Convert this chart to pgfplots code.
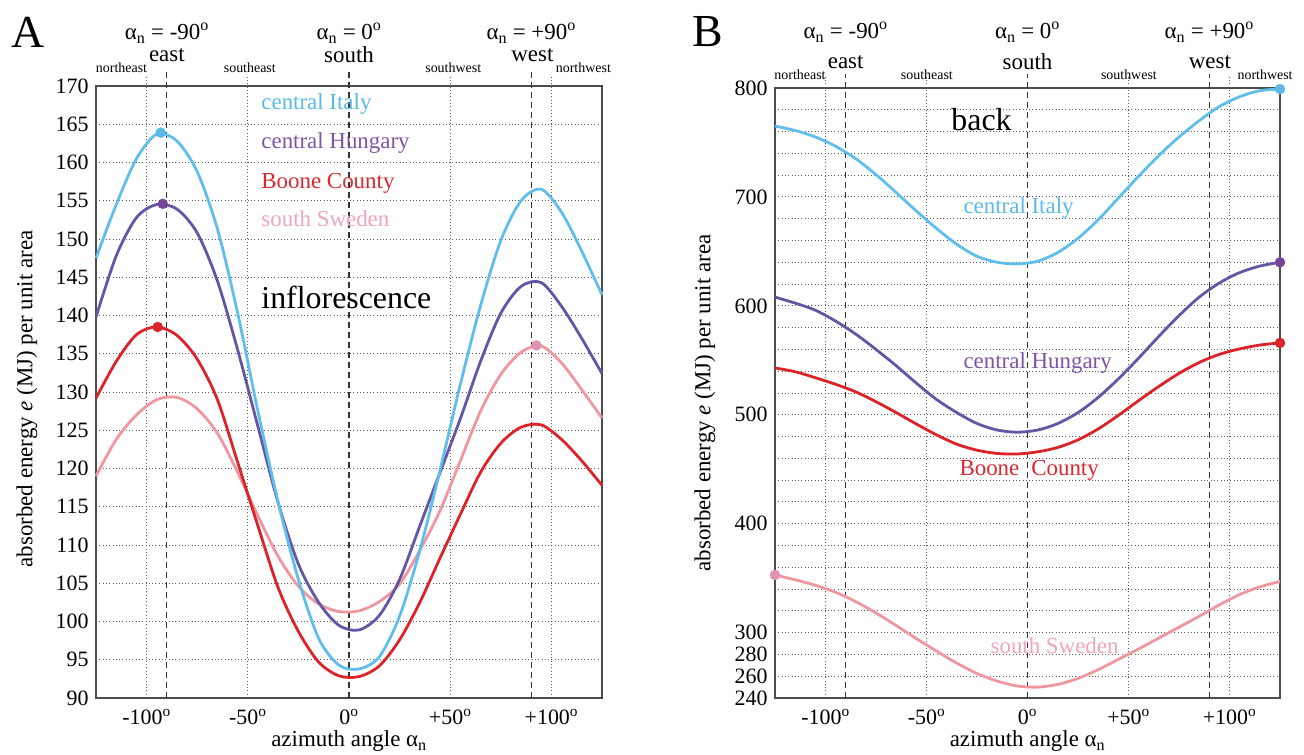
\documentclass[border=0pt]{standalone}
\usepackage{fontspec}
\setmainfont{Liberation Serif}
\usepackage{pgfplots}
\pgfplotsset{compat=1.18}
\definecolor{cItaly}{RGB}{95,190,235}
\definecolor{cHung}{RGB}{100,85,165}
\definecolor{cBoone}{RGB}{220,35,40}
\definecolor{cSwe}{RGB}{240,150,160}
\definecolor{tItaly}{RGB}{90,185,230}
\definecolor{tHung}{RGB}{125,85,165}
\definecolor{tBoone}{RGB}{220,40,45}
\definecolor{tSwe}{RGB}{240,165,185}
\definecolor{mHung}{RGB}{120,70,150}
\definecolor{mSwe}{RGB}{225,145,180}
\tikzset{
 small/.style={font=\fontsize{14}{14}\selectfont},
 card/.style={font=\fontsize{23}{23}\selectfont},
}
\pgfplotsset{
 common/.style={scale only axis, clip=false, xmin=-125, xmax=125,
   xtick={-100,-50,0,50,100},
   xticklabels={-100\textsuperscript{o},-50\textsuperscript{o},0\textsuperscript{o},+50\textsuperscript{o},+100\textsuperscript{o}},
   major tick length=0pt, minor tick length=0pt,
   tick label style={font=\fontsize{22}{22}\selectfont},
   xticklabel style={yshift=-8bp},
   yticklabel style={xshift=-4bp},
   /pgf/number format/assume math mode=true,
   axis line style={black!70, line width=1.1bp},
   ymajorgrids, yminorgrids,
   grid style={black!65, line width=0.9bp, dash pattern=on 0.9bp off 2.4bp},
   minor grid style={black!65, line width=0.9bp, dash pattern=on 0.9bp off 2.4bp},
   label style={font=\fontsize{23}{23}\selectfont},
   xlabel={azimuth angle α\textsubscript{n}},
   ylabel={absorbed energy \textit{e} (MJ) per unit area},
   xlabel style={at={(axis description cs:0.5,0)}, anchor=center, yshift=-43bp},
 },
 curve/.style={line width=2.8bp, smooth},
 vdash/.style={black!80, line width=1.1bp, dash pattern=on 6bp off 4bp, forget plot},
 vdot/.style={black!65, line width=0.9bp, dash pattern=on 0.9bp off 2.4bp, forget plot},
 dot/.style={only marks, mark=*, mark size=5bp, forget plot},
}
\begin{document}
\begin{tikzpicture}
\path[use as bounding box] (0,0) rectangle (1304bp,755bp);
\node[font=\fontsize{46}{46}\selectfont] at (28bp,723bp) {A};
\node[font=\fontsize{46}{46}\selectfont] at (708bp,723bp) {B};
% ---------------- Panel A ----------------
\begin{axis}[common, at={(96bp,57bp)}, anchor=south west, width=506bp, height=612bp,
  ymin=90, ymax=170, ytick={90,95,...,170},
  ylabel style={at={(axis description cs:0,0.4886)}, anchor=center, yshift=69bp}]
\addplot[vdot] coordinates {(-100,90) (-100,171.3)};
\addplot[vdot] coordinates {(-50,90) (-50,171.3)};
\addplot[vdot] coordinates {(50,90) (50,171.3)};
\addplot[vdot] coordinates {(100,90) (100,171.3)};
\addplot[vdash] coordinates {(-90,90) (-90,172)};
\addplot[vdash] coordinates {(0,90) (0,172)};
\addplot[vdash] coordinates {(90,90) (90,172)};
% south Sweden
\addplot[curve, cSwe] coordinates {
(-125,119) (-115,123.8) (-105,127) (-95,129) (-85,129.3) (-75,127.8) (-65,124.6)
(-55,119.5) (-45,113.8) (-35,108.5) (-25,104.6) (-15,102.3) (-5,101.3) (5,101.4)
(15,102.6) (25,104.9) (35,109.3) (45,114.5) (55,121) (65,127.5) (75,132.3) (85,135.2)
(95,136) (105,133.8) (115,130.3) (125,126.6)};
% Boone County
\addplot[curve, cBoone] coordinates {
(-125,129.2) (-115,134) (-105,137.5) (-95,138.5) (-85,137.4) (-75,134.3) (-65,129)
(-55,120.8) (-45,112.5) (-35,104.4) (-25,98.7) (-15,94.7) (-5,92.9) (5,92.8)
(15,94.2) (25,97.6) (35,102.5) (45,108.3) (55,114) (65,119.5) (75,123.3) (85,125.4)
(95,125.7) (105,123.8) (115,121) (125,117.8)};
% central Hungary
\addplot[curve, cHung] coordinates {
(-125,139.8) (-115,147.8) (-105,152.8) (-95,154.5) (-85,153.9) (-75,150.8) (-65,144.5)
(-55,135.5) (-45,125.5) (-35,115.5) (-25,107.5) (-15,102.5) (-5,99.5) (5,98.9)
(15,100.8) (25,105.5) (35,112.5) (45,119.5) (55,126.5) (65,134) (75,140.3) (85,143.8)
(95,144.3) (105,141.2) (115,137) (125,132.4)};
% central Italy
\addplot[curve, cItaly] coordinates {
(-125,147.5) (-115,154.5) (-105,160.5) (-95,163.7) (-85,162.8) (-75,158.8) (-65,151.3)
(-55,140.3) (-45,127.5) (-35,115.6) (-25,105.5) (-15,97.8) (-5,94.3) (5,93.8)
(15,95.4) (25,100.7) (35,109.3) (45,119.8) (55,131) (65,141.3) (75,149.8) (85,155)
(95,156.5) (105,153.5) (115,148.4) (125,142.7)};
\addplot[dot, tItaly] coordinates {(-93,163.9)};
\addplot[dot, mHung] coordinates {(-92,154.6)};
\addplot[dot, cBoone] coordinates {(-94.5,138.5)};
\addplot[dot, mSwe] coordinates {(92.6,136.1)};
\node[anchor=west, text=tItaly, card] at (axis cs:-45,167.6) {central Italy};
\node[anchor=west, text=tHung, card] at (axis cs:-45,162.5) {central Hungary};
\node[anchor=west, text=tBoone, card] at (axis cs:-45,157.3) {Boone County};
\node[anchor=west, text=tSwe, card] at (axis cs:-45,152.6) {south Sweden};
\node[anchor=west, font=\fontsize{32}{32}\selectfont] at (axis cs:-45,142.3) {inflorescence};
\node[small] at (axis cs:-112.4,172.35) {northeast};
\node[small] at (axis cs:-49,172.35) {southeast};
\node[small] at (axis cs:51.5,172.35) {southwest};
\node[small] at (axis cs:115.8,172.35) {northwest};
\node[card] at (axis cs:-90,174.05) {east};
\node[card] at (axis cs:0,174.05) {south};
\node[card] at (axis cs:90.6,174.05) {west};
\node[card] at (axis cs:-90,176.9) {α\textsubscript{n} = -90\textsuperscript{o}};
\node[card] at (axis cs:0,176.9) {α\textsubscript{n} = 0\textsuperscript{o}};
\node[card] at (axis cs:90,176.9) {α\textsubscript{n} = +90\textsuperscript{o}};
\end{axis}
% ---------------- Panel B ----------------
\begin{axis}[common, at={(775bp,57bp)}, anchor=south west, width=505bp, height=610bp,
  ymin=240, ymax=800, ytick={240,260,280,300,400,500,600,700,800},
  minor ytick={320,340,360,380,420,440,460,480,520,540,560,580,620,640,660,680,720,740,760,780},
  ylabel style={at={(axis description cs:0,0.4836)}, anchor=center, yshift=70bp}]
\addplot[vdot] coordinates {(-100,240) (-100,810)};
\addplot[vdot] coordinates {(-50,240) (-50,810)};
\addplot[vdot] coordinates {(50,240) (50,810)};
\addplot[vdot] coordinates {(100,240) (100,810)};
\addplot[vdash] coordinates {(-90,240) (-90,813)};
\addplot[vdash] coordinates {(0,240) (0,813)};
\addplot[vdash] coordinates {(90,240) (90,813)};
% south Sweden
\addplot[curve, cSwe] coordinates {
(-125,353) (-115,348.5) (-105,343.5) (-95,337) (-85,328.5) (-75,318) (-65,306.5)
(-55,294.5) (-45,283) (-35,272) (-25,262.5) (-15,255.5) (-5,251) (5,250) (15,252.5)
(25,258) (35,266) (45,275.5) (55,285) (65,295) (75,305) (85,315) (95,325.5) (105,335)
(115,342) (125,347)};
% Boone County
\addplot[curve, cBoone] coordinates {
(-125,543) (-115,539.5) (-105,534) (-95,528) (-85,521) (-75,512) (-65,502) (-55,491.5)
(-45,481.5) (-35,473) (-25,467.5) (-15,464.5) (-5,464) (5,466) (15,470) (25,477)
(35,487) (45,499.5) (55,513) (65,526) (75,538) (85,548) (95,555.5) (105,560.5)
(115,564) (125,566)};
% central Hungary
\addplot[curve, cHung] coordinates {
(-125,608) (-115,602.5) (-105,596) (-95,586) (-85,574) (-75,560) (-65,545) (-55,529)
(-45,514) (-35,502) (-25,492) (-15,486) (-5,484) (5,486) (15,492) (25,502) (35,516)
(45,533) (55,552) (65,572) (75,591) (85,608) (95,621) (105,630.5) (115,636.5) (125,640)};
% central Italy
\addplot[curve, cItaly] coordinates {
(-125,765) (-115,761) (-105,755) (-95,746.5) (-85,735) (-75,720.5) (-65,704) (-55,687)
(-45,671) (-35,656.5) (-25,645.5) (-15,640) (-5,638.5) (5,641) (15,649) (25,662)
(35,679) (45,699) (55,719) (65,738) (75,755) (85,770) (95,783) (105,792) (115,797.5)
(125,799)};
\addplot[dot, tItaly] coordinates {(125,799)};
\addplot[dot, mHung] coordinates {(125,640)};
\addplot[dot, cBoone] coordinates {(125,566)};
\addplot[dot, mSwe] coordinates {(-125,353)};
\node[anchor=west, font=\fontsize{32}{32}\selectfont] at (axis cs:-39.4,770.6) {back};
\node[anchor=west, text=tItaly, card] at (axis cs:-33.4,689.8) {central Italy};
\node[anchor=west, text=tHung, card] at (axis cs:-33.4,547.5) {central Hungary};
\node[anchor=west, text=tBoone, card] at (axis cs:-35.4,449) {Boone\hspace{12bp}County};
\node[anchor=west, text=tSwe, card] at (axis cs:-20,288.5) {south Sweden};
\node[small] at (axis cs:-112.6,811.9) {northeast};
\node[small] at (axis cs:-49.8,811.9) {southeast};
\node[small] at (axis cs:50.2,811.9) {southwest};
\node[small] at (axis cs:117.6,811.9) {northwest};
\node[card] at (axis cs:-90,823.9) {east};
\node[card] at (axis cs:0,823.9) {south};
\node[card] at (axis cs:90.3,823.9) {west};
\node[card] at (axis cs:-90,851.4) {α\textsubscript{n} = -90\textsuperscript{o}};
\node[card] at (axis cs:0,851.4) {α\textsubscript{n} = 0\textsuperscript{o}};
\node[card] at (axis cs:90,851.4) {α\textsubscript{n} = +90\textsuperscript{o}};
\end{axis}
\end{tikzpicture}
\end{document}
